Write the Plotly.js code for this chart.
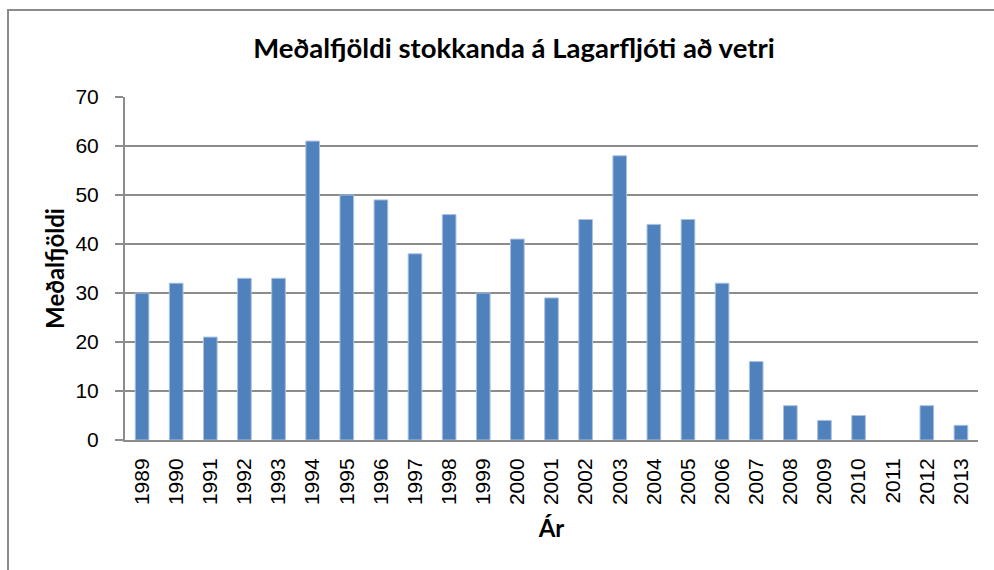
<!DOCTYPE html>
<html>
<head>
<meta charset="utf-8">
<script src="https://cdn.plot.ly/plotly-3.0.1.min.js"></script>
<style>
  html, body { margin:0; padding:0; width:994px; height:570px; overflow:hidden; background:#fff; }
  #frame { position:absolute; left:7px; top:9px; width:1100px; height:700px;
           border-top:2px solid #8c8c8c; border-left:2px solid #8c8c8c; box-sizing:border-box; }
  #chart { position:absolute; left:0; top:0; width:994px; height:570px; }
</style>
</head>
<body>
<div id="frame"></div>
<div id="chart"></div>
<script>
const years = ["1989","1990","1991","1992","1993","1994","1995","1996","1997","1998","1999","2000","2001","2002","2003","2004","2005","2006","2007","2008","2009","2010","2011","2012","2013"];
const values = [30,32,21,33,33,61,50,49,38,46,30,41,29,45,58,44,45,32,16,7,4,5,0,7,3];
const yTicks = [0,10,20,30,40,50,60,70];
const chartTitle = "Meðalfjöldi stokkanda á Lagarfljóti að vetri";
const xTitle = "Ár";
const yTitle = "Meðalfjöldi";

const trace = {
  type: "bar",
  x: years,
  y: values,
  marker: { color: "#4F81BD", line: { color: "#A9C1E0", width: values.map(v => v > 0 ? 1 : 0) } },
  hoverinfo: "x+y"
};

const titleFont = "Lato, 'Open Sans', sans-serif";
const tickFont = "'Liberation Sans', Arial, sans-serif";

const layout = {
  width: 994, height: 570,
  paper_bgcolor: "rgba(0,0,0,0)",
  plot_bgcolor: "rgba(0,0,0,0)",
  margin: { l: 125, r: 16, t: 97, b: 130 },
  showlegend: false,
  bargap: 0.6,
  title: {
    text: "<b>" + chartTitle + "</b>",
    font: { family: titleFont, size: 27.5, color: "#000" },
    x: 514/994, xanchor: "center", xref: "container",
    y: 1 - 48/570, yanchor: "middle", yref: "container"
  },
  xaxis: {
    type: "category",
    tickangle: -90,
    tickfont: { family: tickFont, size: 21, color: "#000" },
    ticks: "",
    showline: true, linecolor: "#8c8c8c", linewidth: 2,
    showgrid: false,
    ticklabelstandoff: 8,
    title: { text: "<b>" + xTitle + "</b>", font: { family: titleFont, size: 24, color: "#000" }, standoff: 16 },
    automargin: false,
    fixedrange: true
  },
  yaxis: {
    range: [0, 70],
    tickvals: yTicks,
    ticktext: yTicks.map(String),
    tickfont: { family: tickFont, size: 21, color: "#000" },
    ticks: "outside", ticklen: 8, tickcolor: "#8c8c8c", tickwidth: 2,
    showline: true, linecolor: "#8c8c8c", linewidth: 2,
    showgrid: true, gridcolor: "#8c8c8c", gridwidth: 1.5,
    zeroline: false,
    ticklabelstandoff: 12,
    title: { text: "<b>" + yTitle + "</b>", font: { family: titleFont, size: 24, color: "#000" }, standoff: 4 },
    automargin: false,
    fixedrange: true
  }
};

Plotly.newPlot("chart", [trace], layout, { displayModeBar: false });
</script>
</body>
</html>
